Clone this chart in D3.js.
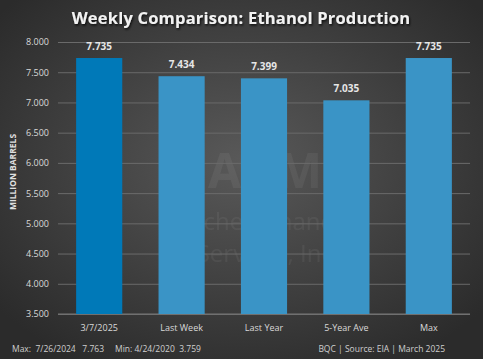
<!DOCTYPE html>
<html>
<head>
<meta charset="utf-8">
<script src="https://cdn.jsdelivr.net/npm/d3@7"></script>
<style>
  body { margin: 0; background: #333; }
  text { font-family: "Open Sans", "DejaVu Sans", sans-serif; }
</style>
</head>
<body>
<div class="container"></div>
<script>
var categories = ["3/7/2025", "Last Week", "Last Year", "5-Year Ave", "Max"];
var values = [7.735, 7.434, 7.399, 7.035, 7.735];
var yTicks = [3.5, 4, 4.5, 5, 5.5, 6, 6.5, 7, 7.5, 8];
const WIDTH = 483;
const HEIGHT = 359;

var svg = d3.select('.container').append('svg')
  .attr('width', WIDTH)
  .attr('height', HEIGHT);

var defs = svg.append('defs');
var grad = defs.append('radialGradient').attr('id', 'bg')
  .attr('cx', '50%').attr('cy', '45%').attr('r', '65%');
grad.append('stop').attr('offset', '0%').attr('stop-color', '#595959');
grad.append('stop').attr('offset', '100%').attr('stop-color', '#2b2b2b');

var shadow = defs.append('filter').attr('id', 'shadow');
shadow.append('feDropShadow').attr('dx', 1).attr('dy', 1.5)
  .attr('stdDeviation', 1).attr('flood-color', '#000').attr('flood-opacity', 0.8);

svg.append('rect').attr('width', WIDTH).attr('height', HEIGHT).attr('fill', 'url(#bg)');

var xScale = d3.scaleBand()
  .domain(categories)
  .range([58, 470])
  .paddingInner(0.44)
  .paddingOuter(0.22);

var yScale = d3.scaleLinear()
  .domain([3.5, 8])
  .range([314, 42]);

// watermark
var wm = svg.append('g').attr('fill', '#ffffff').attr('opacity', 0.05)
  .attr('text-anchor', 'middle').attr('font-weight', 'bold');
wm.append('text').attr('x', 265).attr('y', 188).attr('font-size', 48).text('ADM');
wm.append('text').attr('x', 268).attr('y', 230).attr('font-size', 24)
  .attr('font-family', 'Liberation Serif, serif').attr('font-weight', 'normal').text('Archer Financial');
wm.append('text').attr('x', 268).attr('y', 262).attr('font-size', 24)
  .attr('font-family', 'Liberation Serif, serif').attr('font-weight', 'normal').text('Services, Inc.');

var yAxis = d3.axisLeft(yScale).tickValues(yTicks)
  .tickFormat(d3.format('.3f')).tickSize(-412).tickPadding(9);

var gy = svg.append('g')
  .attr('transform', 'translate(58,0)')
  .call(yAxis);
gy.select('.domain').remove();
gy.selectAll('.tick line').attr('stroke', '#6a6a6a').attr('stroke-width', 1);
gy.selectAll('.tick text').attr('fill', '#d9d9d9').attr('font-size', 9)
  .attr('font-family', '"Open Sans", sans-serif');

svg.append('line').attr('x1', 58).attr('x2', 470)
  .attr('y1', yScale(3.5)).attr('y2', yScale(3.5))
  .attr('stroke', '#777');

svg.selectAll('rect.bar')
  .data(values)
  .enter().append('rect')
  .attr('class', 'bar')
  .attr('x', function(d, i) { return xScale(categories[i]); })
  .attr('width', xScale.bandwidth())
  .attr('y', function(d) { return yScale(d); })
  .attr('height', function(d) { return yScale(3.5) - yScale(d); })
  .attr('fill', function(d, i) { return i === 0 ? '#0079b8' : '#3a94c6'; });

svg.selectAll('text.val')
  .data(values)
  .enter().append('text')
  .attr('class', 'val')
  .attr('x', function(d, i) { return xScale(categories[i]) + xScale.bandwidth() / 2; })
  .attr('y', function(d) { return yScale(d) - 8; })
  .attr('text-anchor', 'middle')
  .attr('font-size', 10).attr('font-weight', 'bold')
  .attr('fill', '#e6e6e6')
  .text(function(d) { return d3.format('.3f')(d); });

svg.selectAll('text.cat')
  .data(categories)
  .enter().append('text')
  .attr('class', 'cat')
  .attr('x', function(d) { return xScale(d) + xScale.bandwidth() / 2; })
  .attr('y', 331)
  .attr('text-anchor', 'middle')
  .attr('font-size', 9)
  .attr('fill', '#d9d9d9')
  .text(function(d) { return d; });

svg.append('text')
  .attr('transform', 'translate(16,172) rotate(-90)')
  .attr('text-anchor', 'middle')
  .attr('font-size', 8.5).attr('font-weight', 'bold')
  .attr('fill', '#e0e0e0')
  .text('MILLION BARRELS');

svg.append('text')
  .attr('x', 241).attr('y', 24)
  .attr('text-anchor', 'middle')
  .attr('font-size', 16.5).attr('font-weight', 'bold')
  .attr('fill', '#f2f2f2')
  .attr('filter', 'url(#shadow)')
  .attr('letter-spacing', 0.2)
  .text('Weekly Comparison: Ethanol Production');

svg.append('text')
  .attr('x', 12).attr('y', 352)
  .attr('font-size', 8.5).attr('fill', '#cfcfcf')
  .attr('xml:space', 'preserve')
  .text('Max:  7/26/2024   7.763     Min: 4/24/2020  3.759');

svg.append('text')
  .attr('x', 445).attr('y', 352)
  .attr('text-anchor', 'end')
  .attr('font-size', 8.5).attr('fill', '#cfcfcf')
  .text('BQC | Source: EIA | March 2025');
</script>
</body>
</html>
